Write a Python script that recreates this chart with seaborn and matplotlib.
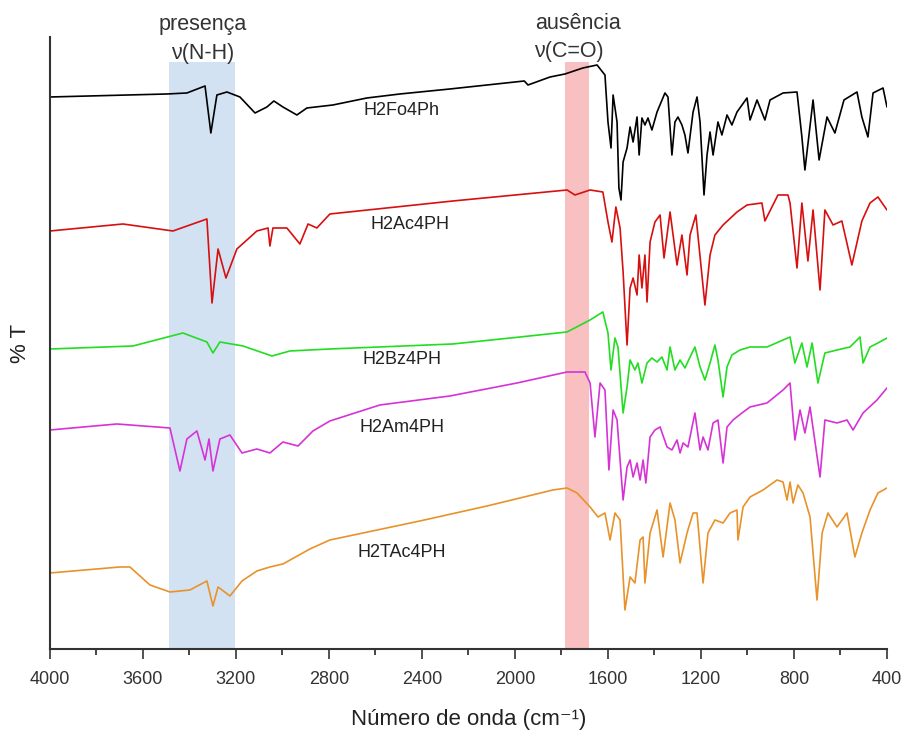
import pandas as pd
import matplotlib
matplotlib.use('Agg')
import matplotlib.pyplot as plt
import seaborn as sns

# Espectros FTIR (número de onda em cm-1, %T com deslocamento, unidades arbitrárias)
fo_wn = [4000, 3497, 3411, 3333, 3308, 3282, 3239, 3183, 3118, 3067, 3037, 2998, 2938, 2895, 2783,
         2637, 2495, 2280, 1960, 1944, 1849, 1785, 1708,
         1647, 1613, 1600, 1587, 1578, 1561, 1553, 1544, 1535, 1518, 1505, 1492, 1475, 1466, 1454,
         1441, 1428, 1411, 1389, 1355, 1342, 1325, 1312, 1299, 1282, 1269, 1256, 1234, 1217, 1204,
         1187, 1174, 1161, 1148, 1127, 1110, 1088, 1067, 1045, 1002,
         989, 959, 925, 903, 847, 787, 766, 753, 718, 692, 658, 624, 585, 529, 508, 482, 460, 417, 400]
fo_t = [552, 555, 556, 563, 516, 554, 557, 552, 536, 542, 548, 542, 534, 541, 544,
        551, 555, 560, 568, 564, 572, 575, 581,
        584, 574, 527, 501, 554, 527, 461, 449, 487, 501, 522, 507, 532, 494, 531,
        524, 531, 519, 537, 556, 552, 494, 527, 532, 524, 514, 496, 537, 552, 527,
        454, 494, 517, 494, 527, 514, 534, 524, 537, 551,
        529, 549, 529, 549, 556, 557, 512, 479, 549, 489, 532, 516, 549, 557, 532, 512, 556, 561, 542]

ac_wn = [4000, 3686, 3471, 3325, 3303, 3277, 3243, 3196, 3110, 3062, 3054, 3041, 2981, 2925, 2890,
         2852, 2796, 2267, 1776, 1742,
         1677, 1622, 1600, 1583, 1566, 1548, 1535, 1518, 1505, 1492, 1475, 1466, 1454, 1441, 1432,
         1419, 1398, 1376, 1359, 1333, 1303, 1282, 1260, 1247, 1222, 1183, 1161, 1140, 1105, 1045,
         1002, 938, 925, 869, 826, 817, 787, 766, 740, 718, 688, 667, 632, 594, 551, 508, 473, 439, 400]
ac_t = [418, 425, 418, 430, 346, 400, 371, 400, 418, 421, 403, 421, 421, 405, 425,
        421, 435, 448, 459, 454,
        459, 457, 427, 407, 442, 421, 377, 304, 361, 371, 354, 394, 361, 394, 347,
        407, 427, 434, 391, 437, 384, 414, 374, 414, 434, 344, 394, 414, 424, 437,
        444, 446, 428, 454, 454, 446, 381, 446, 388, 439, 359, 439, 424, 428, 384, 428, 446, 452, 439]

bz_wn = [4000, 3643, 3428, 3325, 3299, 3269, 3170, 3045, 2968, 2796, 2267, 1978, 1776,
         1677, 1622, 1600, 1587, 1570, 1557, 1535, 1518, 1505, 1484, 1471, 1454, 1432, 1411, 1389,
         1368, 1346, 1333, 1312, 1290, 1269, 1247, 1226, 1204, 1183, 1161, 1140, 1127, 1105, 1088,
         1067, 1032, 989,
         916, 817, 796, 766, 744, 722, 697, 667, 615, 559, 516, 503, 473, 439, 400]
bz_t = [300, 303, 316, 307, 296, 307, 303, 293, 298, 300, 305, 312, 317,
        329, 337, 316, 279, 311, 302, 236, 262, 289, 279, 286, 266, 286, 291, 287,
        292, 279, 302, 279, 289, 281, 292, 302, 282, 269, 286, 304, 289, 252, 282,
        294, 299, 302,
        302, 312, 286, 306, 282, 306, 266, 296, 299, 302, 312, 286, 302, 306, 311]

am_wn = [4000, 3712, 3484, 3441, 3411, 3368, 3333, 3316, 3299, 3269, 3226, 3174, 3110, 3054, 2998,
         2933, 2869, 2796, 2581, 2280, 1991, 1776, 1699,
         1677, 1656, 1634, 1613, 1596, 1578, 1561, 1535, 1518, 1505, 1492, 1475, 1462, 1449, 1437,
         1419, 1398, 1376, 1346, 1325, 1303, 1290, 1277, 1256, 1226, 1204, 1191, 1170, 1148, 1127,
         1105, 1088, 1062, 1024, 989,
         916, 847, 817, 796, 774, 753, 731, 688, 667, 615, 572, 546, 503, 443, 400]
am_t = [219, 225, 221, 178, 210, 218, 189, 210, 178, 210, 214, 196, 200, 196, 207,
        203, 218, 228, 244, 253, 266, 277, 277,
        266, 212, 266, 259, 179, 239, 229, 149, 182, 189, 172, 186, 169, 189, 166,
        212, 219, 222, 202, 199, 209, 196, 206, 202, 236, 199, 212, 199, 226, 229,
        186, 222, 229, 236, 242,
        246, 259, 266, 209, 239, 216, 242, 172, 229, 226, 229, 219, 236, 249, 261]

tac_wn = [4000, 3699, 3656, 3570, 3484, 3398, 3325, 3299, 3277, 3226, 3174, 3110, 3054, 2998, 2882,
          2796, 2409, 2120, 1837, 1776, 1733,
          1677, 1643, 1613, 1591, 1570, 1548, 1527, 1505, 1484, 1462, 1449, 1441, 1419, 1389, 1363,
          1333, 1312, 1290, 1260, 1234, 1217, 1191, 1170, 1140, 1105, 1075, 1045, 1041, 1019, 989,
          933, 873, 847, 830, 817, 804, 783, 761, 731, 701, 679, 654, 615,
          572, 538, 508, 473, 439, 400]
tac_t = [76, 82, 82, 64, 57, 59, 68, 43, 62, 53, 68, 78, 82, 85, 100,
         109, 128, 143, 159, 161, 156,
         142, 132, 136, 109, 136, 129, 39, 72, 66, 109, 112, 66, 116, 139, 92,
         146, 129, 86, 116, 136, 136, 66, 116, 129, 126, 136, 139, 109, 142, 152,
         159, 169, 167, 149, 167, 146, 164, 156, 132, 49, 116, 136, 122,
         136, 92, 116, 139, 156, 161]

amostras = ['H2Fo4Ph', 'H2Ac4PH', 'H2Bz4PH', 'H2Am4PH', 'H2TAc4PH']
cores = ['#000000', '#d80f0f', '#22dd22', '#d633d6', '#e8922a']
espectros = [(fo_wn, fo_t), (ac_wn, ac_t), (bz_wn, bz_t), (am_wn, am_t), (tac_wn, tac_t)]

# posição dos rótulos das amostras (cm-1, %T)
rotulo_x = [2486, 2452, 2486, 2486, 2486]
rotulo_y = [538, 424, 289, 221, 96]

# regiões destacadas
faixa_nh = (3490, 3205)
faixa_co = (1785, 1682)

sns.set_style('ticks')
plt.rcParams['font.family'] = ['Liberation Sans', 'DejaVu Sans']

fig = plt.figure(figsize=(9.05, 7.31), dpi=100)
ax = fig.add_axes([0.0552, 0.1122, 0.9249, 0.8372])

topo = 0.959
ax.axvspan(faixa_nh[0], faixa_nh[1], ymin=0, ymax=topo, color='#d2e2f3', lw=0, zorder=0)
ax.axvspan(faixa_co[0], faixa_co[1], ymin=0, ymax=topo, color='#f8c0c0', lw=0, zorder=0)

for nome, cor, (wn, t) in zip(amostras, cores, espectros):
    df = pd.DataFrame({'wn': wn, 't': t})
    sns.lineplot(data=df, x='wn', y='t', color=cor, linewidth=1.2, ax=ax)

for nome, x, y in zip(amostras, rotulo_x, rotulo_y):
    ax.text(x, y, nome, fontsize=13, ha='center', va='center', color='#222222')

ax.text(3345, 624, 'presença', fontsize=15.5, ha='center', va='center', color='#333333', clip_on=False)
ax.text(3342, 595, 'ν(N-H)', fontsize=15.5, ha='center', va='center', color='#333333', clip_on=False)
ax.text(1729, 625, 'ausência', fontsize=15.5, ha='center', va='center', color='#333333', clip_on=False)
ax.text(1768, 597, 'ν(C=O)', fontsize=15.5, ha='center', va='center', color='#333333', clip_on=False)

ax.set_xlim(4000, 400)
ax.set_ylim(0, 612)
ax.set_xticks([4000, 3600, 3200, 2800, 2400, 2000, 1600, 1200, 800, 400])
ax.set_xticks(range(3800, 400, -400), minor=True)
ax.set_yticks([])
ax.tick_params(axis='x', which='major', direction='out', length=7, width=1.2, labelsize=13, pad=9,
               colors='#333333')
ax.tick_params(axis='x', which='minor', direction='out', length=4, width=1.2)
for s in ['top', 'right']:
    ax.spines[s].set_visible(False)
for s in ['left', 'bottom']:
    ax.spines[s].set_linewidth(1.5)
    ax.spines[s].set_color('#333333')

ax.set_xlabel('Número de onda (cm⁻¹)', fontsize=16, labelpad=15, color='#222222')
ax.set_ylabel('% T', fontsize=16, labelpad=14, color='#222222')

fig.savefig('out.png', dpi=100)
